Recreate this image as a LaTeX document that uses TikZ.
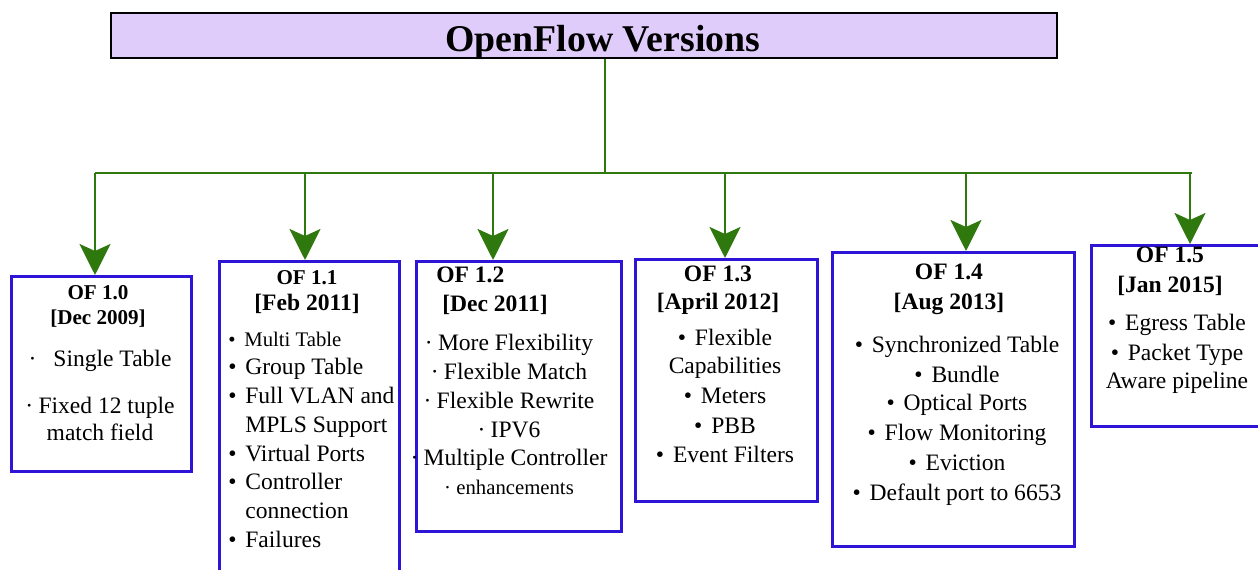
\documentclass[tikz,border=0pt]{standalone}
\usepackage{fontspec}
\setmainfont{Liberation Serif}
\usetikzlibrary{arrows.meta}

\definecolor{ofgreen}{RGB}{46,120,14}
\definecolor{ofblue}{RGB}{45,20,215}
\definecolor{oflilac}{RGB}{224,204,250}

\newcommand\ofbody{\fontsize{13.4}{16.4}\selectfont}
\newcommand\ofsmall{\fontsize{11.8}{16.4}\selectfont}
\newcommand\ofhead{\fontsize{13.4}{16.4}\selectfont\bfseries}
\newcommand\ofheadsm{\fontsize{12}{16.4}\selectfont\bfseries}
\newcommand\bul{\textbullet\hspace{5pt}}
\newcommand\dotb{\textperiodcentered\hspace{3pt}}

\begin{document}
\begin{tikzpicture}[
    x = 0.2mm,
    y = -0.2mm,
    >={Stealth[length=6.2mm,width=6.2mm,inset=1.4mm]},
    conn/.style = {
      draw = ofgreen,
      line width = 1.4pt
    },
    frame/.style = {
      draw = ofblue,
      line width = 1.6pt,
      anchor = north west,
      inner sep = 0pt
    },
    head/.style = {
      font = \ofhead,
      align = center,
      anchor = north,
      inner sep = 0pt
    },
    list/.style = {
      font = \ofbody,
      align = center,
      anchor = north,
      inner sep = 0pt
    }
  ]
\useasboundingbox (0,0) rectangle (1258,570);
\clip (0,0) rectangle (1258,570);

% title
\node[draw, line width=0.9pt, fill=oflilac, anchor=north west, inner sep=0pt,
      minimum width=189.2mm, minimum height=9mm,
      text height=7.8mm, text depth=1.2mm,
      font=\fontsize{21.5}{24}\selectfont\bfseries] (title) at (110,12)
      {\hspace*{7.6mm}OpenFlow Versions};

% version boxes
\node[frame, minimum width=36mm,   minimum height=39mm]   (of10) at (10,275)   {};
\node[frame, minimum width=36mm,   minimum height=64mm]   (of11) at (218,260)  {};
\node[frame, minimum width=41mm,   minimum height=54mm]   (of12) at (415,260)  {};
\node[frame, minimum width=36.4mm, minimum height=48.4mm] (of13) at (634,258)  {};
\node[frame, minimum width=48.4mm, minimum height=58.8mm] (of14) at (831,251)  {};
\node[frame, minimum width=36mm,   minimum height=36.2mm] (of15) at (1090,244) {};

% tree
\coordinate (hub)  at (605,173);
\coordinate (barL) at (95,173);
\coordinate (barR) at (1192,173);
\draw[conn] (title.south -| hub) -- (hub);
\draw[conn] (barL) -- (barR);
\foreach \v/\x in {10/95, 11/305, 12/493, 13/725, 14/966, 15/1190} {
  \coordinate (t\v) at (\x,173);
  \draw[conn,->] (t\v) -- (t\v |- of\v.north);
}

% OF 1.0
\node[head, font=\ofheadsm] (hd10) at (98,285.4) {OF 1.0\\[-2.2pt][Dec 2009]};
\node[list] (ls10) at (100,350)
  {\dotb\ \ Single Table\\[10.2pt]\dotb Fixed 12 tuple\\[-1.1pt]match field};

% OF 1.1
\node[head] (hd11) at (307,270.4) {{\ofheadsm OF 1.1}\\[-1.7pt][Feb 2011]};
\node[list, align=left, anchor=north west] (ls11) at (228,332)
  {{\ofsmall\bul Multi Table}\\[-0.5pt]\bul Group Table\\\bul Full VLAN and\\
   \hphantom{\bul}MPLS Support\\\bul Virtual Ports\\\bul Controller\\
   \hphantom{\bul}connection\\\bul Failures};

% OF 1.2
\node[head, align=left, anchor=north west] (hd12) at (436,266.7)
  {OF 1.2\\\hspace*{1.2mm}[Dec 2011]};
\node[list] (ls12) at (509,334)
  {\dotb More Flexibility\\\dotb Flexible Match\\\dotb Flexible Rewrite\\
   \dotb IPV6\\\dotb Multiple Controller\\{\ofsmall\dotb enhancements}};

% OF 1.3
\node[head] (hd13) at (718,266) {OF 1.3\\[-0.5pt][April 2012]};
\node[list] (ls13) at (725,329)
  {\bul Flexible\\[-0.5pt]Capabilities\\[0.6pt]\bul Meters\\[0.6pt]\bul PBB\\
   \bul Event Filters};

% OF 1.4
\node[head] (hd14) at (949,264) {OF 1.4\\[0.6pt][Aug 2013]};
\node[list] (ls14) at (957,336)
  {\bul Synchronized Table\\[0.6pt]\bul Bundle\\[-0.5pt]\bul Optical Ports\\[0.6pt]
   \bul Flow Monitoring\\[0.6pt]\bul Eviction\\[0.6pt]\bul Default port to 6653};

% OF 1.5
\node[head] (hd15) at (1170,247) {OF 1.5\\[0.6pt][Jan 2015]};
\node[list] (ls15) at (1177,314)
  {\bul Egress Table\\[0.6pt]\bul Packet Type\\[-0.5pt]Aware pipeline};

\end{tikzpicture}
\end{document}
